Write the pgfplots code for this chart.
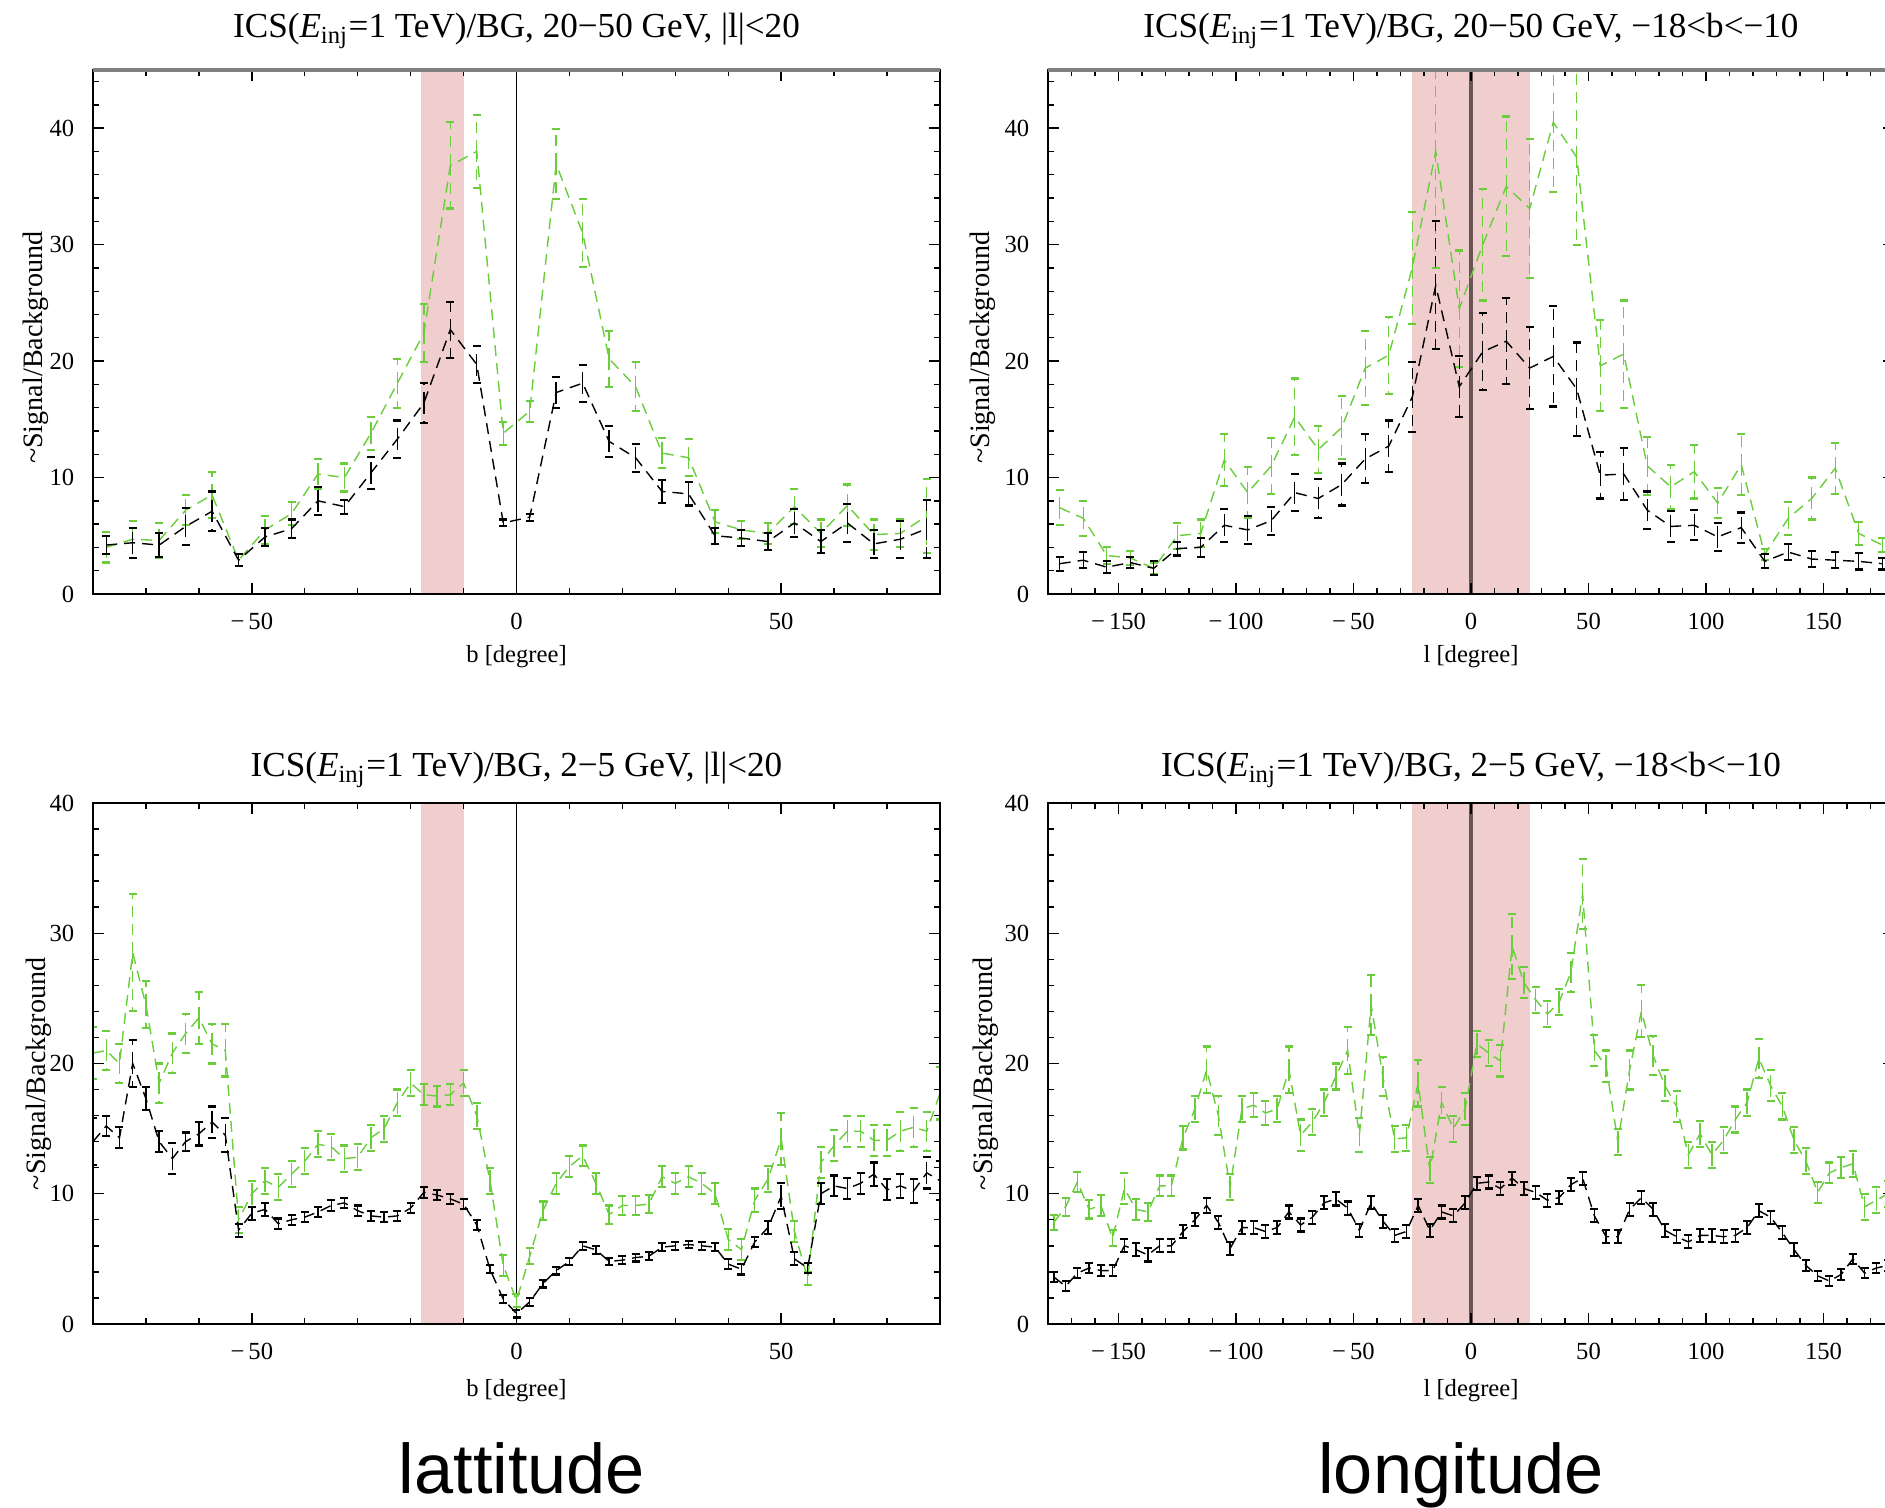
\documentclass[border=0pt]{standalone}
\usepackage{fontspec}
\setmainfont{Liberation Serif}
\newfontfamily\labelfont{Liberation Sans}
\usepackage{pgfplots}
\pgfplotsset{compat=1.18}

\definecolor{sbgreen}{RGB}{105,205,60}
\definecolor{bandpink}{RGB}{240,206,206}
\definecolor{zeroline}{RGB}{105,85,85}

\pgfplotsset{
  mma/.style={
    scale only axis, axis on top, clip=true,
    tick align=inside,
    major tick length=1.1mm, minor tick length=0.6mm,
    tick style={black, line width=0.4pt},
    axis line style={line width=0.5pt},
    ticklabel style={font=\fontsize{7}{8}\selectfont},
    xticklabel style={yshift=-2pt},
    yticklabel style={xshift=-1.8pt},
    /pgf/number format/assume math mode=true,
    title style={font=\fontsize{10}{12}\selectfont, anchor=base, at={(0.5,1)}},
    xlabel style={font=\fontsize{7}{8}\selectfont, at={(axis description cs:0.5,0)}, anchor=center},
    ylabel style={font=\fontsize{8}{9}\selectfont, anchor=center},
  },
  gser/.style={sbgreen, line width=0.4pt, dash pattern=on 1.1mm off 0.7mm, mark=none,
    error bars/.cd, y dir=both, y explicit, error mark=-,
    error bar style={sbgreen, line width=0.4pt, dash pattern=on 1.1mm off 0.7mm},
    error mark options={sbgreen, solid, rotate=90, mark size=0.4mm, line width=0.6pt}},
  kser/.style={black, line width=0.4pt, dash pattern=on 1.1mm off 0.7mm, mark=none,
    error bars/.cd, y dir=both, y explicit, error mark=-,
    error bar style={black, line width=0.4pt, dash pattern=on 1.1mm off 0.7mm},
    error mark options={black, solid, rotate=90, mark size=0.4mm, line width=0.6pt}},
}

\begin{document}
\begin{tikzpicture}
\useasboundingbox (0,0) rectangle (188.5mm,150.8mm);

% ---------- top left: latitude, 20-50 GeV
\begin{axis}[mma, name=tl,
  at={(9.3mm,91.4mm)}, anchor=south west,
  width=84.7mm, height=52.4mm,
  xmin=-80, xmax=80, ymin=0, ymax=45,
  xtick={-50,0,50}, xticklabels={−\,50,0,50},
  minor xtick={-80,-70,...,80},
  ytick={0,10,20,30,40}, minor ytick={0,2,...,44},
  title style={yshift=1.1mm},
  title={ICS(\textit{E}\textsubscript{inj}=1 TeV)/BG, 20−50 GeV, |l|<20},
  xlabel={b [degree]}, xlabel style={yshift=-6.3mm},
  ylabel={\textasciitilde Signal/Background},
  ylabel style={at={(axis description cs:-0.0673,0.47)}},
]
\addplot[draw=none, fill=bandpink, forget plot] coordinates {(-18,45) (-10,45)} \closedcycle;
\addplot[black, line width=0.5pt] coordinates {(0,0) (0,45)};
\addplot[gser] coordinates {
(-77.5,4.0) +- (0,1.3) (-72.5,4.7) +- (0,1.6) (-67.5,4.6) +- (0,1.5) (-62.5,7.2) +- (0,1.3)
(-57.5,8.5) +- (0,2.0) (-52.5,2.9) +- (0,0.5) (-47.5,5.5) +- (0,1.2) (-42.5,6.9) +- (0,1.0)
(-37.5,10.3) +- (0,1.3) (-32.5,10.0) +- (0,1.2) (-27.5,13.8) +- (0,1.4) (-22.5,18.1) +- (0,2.1)
(-17.5,22.4) +- (0,2.5) (-12.5,36.8) +- (0,3.7) (-7.5,38.0) +- (0,3.1) (-2.5,13.8) +- (0,1.0)
(2.5,15.7) +- (0,0.9) (7.5,36.9) +- (0,3.0) (12.5,31.0) +- (0,2.9) (17.5,20.2) +- (0,2.4)
(22.5,17.8) +- (0,2.1) (27.5,12.1) +- (0,1.3) (32.5,11.7) +- (0,1.6) (37.5,6.2) +- (0,1.0)
(42.5,5.5) +- (0,0.8) (47.5,5.2) +- (0,0.9) (52.5,7.5) +- (0,1.5) (57.5,5.2) +- (0,1.2)
(62.5,7.6) +- (0,1.8) (67.5,5.1) +- (0,1.3) (72.5,5.2) +- (0,1.2) (77.5,6.7) +- (0,3.2)
};
\addplot[kser] coordinates {
(-77.5,4.2) +- (0,0.8) (-72.5,4.4) +- (0,1.3) (-67.5,4.2) +- (0,1.0) (-62.5,5.8) +- (0,1.6)
(-57.5,7.1) +- (0,1.7) (-52.5,2.9) +- (0,0.5) (-47.5,4.9) +- (0,0.8) (-42.5,5.6) +- (0,0.8)
(-37.5,8.0) +- (0,1.2) (-32.5,7.5) +- (0,0.6) (-27.5,10.4) +- (0,1.4) (-22.5,13.3) +- (0,1.6)
(-17.5,16.4) +- (0,1.7) (-12.5,22.7) +- (0,2.4) (-7.5,19.7) +- (0,1.6) (-2.5,6.1) +- (0,0.3)
(2.5,6.6) +- (0,0.3) (7.5,17.3) +- (0,1.3) (12.5,18.1) +- (0,1.6) (17.5,13.1) +- (0,1.3)
(22.5,11.7) +- (0,1.2) (27.5,8.8) +- (0,1.0) (32.5,8.6) +- (0,1.0) (37.5,5.0) +- (0,0.7)
(42.5,4.8) +- (0,0.7) (47.5,4.5) +- (0,0.7) (52.5,6.1) +- (0,1.2) (57.5,4.5) +- (0,1.0)
(62.5,6.1) +- (0,1.6) (67.5,4.3) +- (0,1.2) (72.5,4.7) +- (0,1.6) (77.5,5.6) +- (0,2.5)
};
\end{axis}
\draw[gray, line width=0.35mm] (tl.north west) -- (tl.north east);

% ---------- top right: longitude, 20-50 GeV
\begin{axis}[mma, name=tr,
  at={(104.8mm,91.4mm)}, anchor=south west,
  width=84.6mm, height=52.4mm,
  xmin=-180, xmax=180, ymin=0, ymax=45,
  xtick={-150,-100,...,150}, xticklabels={−\,150,−\,100,−\,50,0,50,100,150},
  minor xtick={-180,-170,...,180},
  ytick={0,10,20,30,40}, minor ytick={0,2,...,44},
  title style={yshift=1.1mm},
  title={ICS(\textit{E}\textsubscript{inj}=1 TeV)/BG, 20−50 GeV, −18<b<−10},
  xlabel={l [degree]}, xlabel style={yshift=-6.3mm},
  ylabel={\textasciitilde Signal/Background},
  ylabel style={at={(axis description cs:-0.0768,0.47)}},
]
\addplot[draw=none, fill=bandpink, forget plot] coordinates {(-25,45) (25,45)} \closedcycle;
\addplot[zeroline, line width=0.9pt] coordinates {(0,0) (0,45)};
\addplot[gser] coordinates {
(-175,7.4) +- (0,1.5) (-165,6.5) +- (0,1.5) (-155,3.3) +- (0,0.7) (-145,3.1) +- (0,0.6)
(-135,2.2) +- (0,0.5) (-125,5.0) +- (0,1.1) (-115,5.2) +- (0,1.2) (-105,11.5) +- (0,2.2)
(-95,8.7) +- (0,2.2) (-85,11.0) +- (0,2.4) (-75,15.2) +- (0,3.3) (-65,12.4) +- (0,2.0)
(-55,14.3) +- (0,2.7) (-45,19.4) +- (0,3.2) (-35,20.5) +- (0,3.3) (-25,28.0) +- (0,4.8)
(-15,38.0) +- (0,10.0) (-5,24.5) +- (0,5.0) (5,30.0) +- (0,4.8) (15,35.0) +- (0,6.0)
(25,33.1) +- (0,6.0) (35,40.5) +- (0,6.0) (45,37.5) +- (0,7.5) (55,19.6) +- (0,3.9)
(65,20.6) +- (0,4.6) (75,11.0) +- (0,2.5) (85,9.2) +- (0,1.9) (95,10.5) +- (0,2.3)
(105,7.8) +- (0,1.3) (115,11.1) +- (0,2.6) (125,3.4) +- (0,0.5) (135,6.5) +- (0,1.4)
(145,8.2) +- (0,1.8) (155,10.8) +- (0,2.2) (165,5.2) +- (0,1.0) (175,4.2) +- (0,0.6)
};
\addplot[kser] coordinates {
(-175,2.6) +- (0,0.6) (-165,2.9) +- (0,0.7) (-155,2.3) +- (0,0.5) (-145,2.7) +- (0,0.5)
(-135,2.2) +- (0,0.6) (-125,3.9) +- (0,0.6) (-115,4.0) +- (0,0.8) (-105,5.9) +- (0,1.4)
(-95,5.5) +- (0,1.2) (-85,6.3) +- (0,1.2) (-75,8.7) +- (0,1.6) (-65,8.2) +- (0,1.7)
(-55,9.4) +- (0,1.8) (-45,11.6) +- (0,2.1) (-35,12.7) +- (0,2.2) (-25,16.9) +- (0,3.0)
(-15,26.5) +- (0,5.5) (-5,17.8) +- (0,2.6) (5,20.8) +- (0,3.3) (15,21.7) +- (0,3.7)
(25,19.4) +- (0,3.5) (35,20.4) +- (0,4.3) (45,17.6) +- (0,4.0) (55,10.2) +- (0,2.0)
(65,10.3) +- (0,2.2) (75,7.2) +- (0,1.6) (85,5.8) +- (0,1.3) (95,5.9) +- (0,1.3)
(105,4.9) +- (0,1.2) (115,5.7) +- (0,1.3) (125,2.8) +- (0,0.6) (135,3.6) +- (0,0.7)
(145,3.0) +- (0,0.7) (155,2.9) +- (0,0.7) (165,2.8) +- (0,0.7) (175,2.6) +- (0,0.5)
};
\end{axis}
\draw[gray, line width=0.35mm] (tr.north west) -- (tr.north east);

% ---------- bottom left: latitude, 2-5 GeV
\begin{axis}[mma, name=bl,
  at={(9.3mm,18.4mm)}, anchor=south west,
  width=84.7mm, height=52.1mm,
  xmin=-80, xmax=80, ymin=0, ymax=40,
  xtick={-50,0,50}, xticklabels={−\,50,0,50},
  minor xtick={-80,-70,...,80},
  ytick={0,10,20,30,40}, minor ytick={0,2,...,40},
  title style={yshift=0.5mm},
  title={ICS(\textit{E}\textsubscript{inj}=1 TeV)/BG, 2−5 GeV, |l|<20},
  xlabel={b [degree]}, xlabel style={yshift=-6.7mm},
  ylabel={\textasciitilde Signal/Background},
  ylabel style={at={(axis description cs:-0.0643,0.48)}},
]
\addplot[draw=none, fill=bandpink, forget plot] coordinates {(-18,40) (-10,40)} \closedcycle;
\addplot[black, line width=0.5pt] coordinates {(0,0) (0,40)};
\addplot[gser] coordinates {
(-80,20.8) +- (0,2.0) (-77.5,21.0) +- (0,1.5) (-75,20.0) +- (0,1.5) (-72.5,28.5) +- (0,4.5)
(-70,24.5) +- (0,1.8) (-67.5,18.5) +- (0,1.5) (-65,20.8) +- (0,1.5) (-62.5,22.3) +- (0,1.5)
(-60,23.5) +- (0,2.0) (-57.5,21.5) +- (0,1.5) (-55,21.0) +- (0,2.0) (-52.5,8.0) +- (0,1.0)
(-50,10.0) +- (0,1.0) (-47.5,11.0) +- (0,1.0) (-45,10.5) +- (0,1.0) (-42.5,11.5) +- (0,1.0)
(-40,12.5) +- (0,1.0) (-37.5,13.8) +- (0,1.0) (-35,13.6) +- (0,1.0) (-32.5,12.7) +- (0,1.0)
(-30,12.8) +- (0,1.0) (-27.5,14.3) +- (0,1.0) (-25,15.0) +- (0,1.0) (-22.5,17.0) +- (0,1.0)
(-20,18.5) +- (0,1.0) (-17.5,17.6) +- (0,0.8) (-15,17.5) +- (0,0.8) (-12.5,17.6) +- (0,0.8)
(-10,18.5) +- (0,1.0) (-7.5,16.0) +- (0,1.0) (-5,11.0) +- (0,1.0) (-2.5,4.5) +- (0,0.8)
(0,1.8) +- (0,0.5) (2.5,5.2) +- (0,0.6) (5,8.7) +- (0,0.7) (7.5,10.8) +- (0,0.8)
(10,12.1) +- (0,0.8) (12.5,12.9) +- (0,0.8) (15,10.8) +- (0,0.8) (17.5,8.4) +- (0,0.7)
(20,9.1) +- (0,0.7) (22.5,9.1) +- (0,0.7) (25,9.2) +- (0,0.7) (27.5,11.3) +- (0,0.8)
(30,10.8) +- (0,0.8) (32.5,11.3) +- (0,0.8) (35,10.8) +- (0,0.8) (37.5,10.0) +- (0,0.8)
(40,6.5) +- (0,0.8) (42.5,5.7) +- (0,0.8) (45,9.5) +- (0,0.9) (47.5,11.1) +- (0,1.0)
(50,14.2) +- (0,2.0) (52.5,7.1) +- (0,0.8) (55,3.5) +- (0,0.5) (57.5,12.4) +- (0,1.2)
(60,13.7) +- (0,1.2) (62.5,14.8) +- (0,1.2) (65,14.8) +- (0,1.2) (67.5,14.1) +- (0,1.2)
(70,14.1) +- (0,1.2) (72.5,14.8) +- (0,1.5) (75,15.1) +- (0,1.5) (77.5,14.8) +- (0,1.5)
(80,17.7) +- (0,2.0)
};
\addplot[kser] coordinates {
(-80,14.0) +- (0,1.8) (-77.5,15.2) +- (0,0.8) (-75,14.3) +- (0,0.8) (-72.5,20.0) +- (0,1.8)
(-70,17.3) +- (0,0.9) (-67.5,14.0) +- (0,0.8) (-65,12.7) +- (0,1.2) (-62.5,14.0) +- (0,0.7)
(-60,14.6) +- (0,0.9) (-57.5,15.5) +- (0,1.2) (-55,14.5) +- (0,1.3) (-52.5,7.2) +- (0,0.5)
(-50,8.5) +- (0,0.5) (-47.5,8.8) +- (0,0.5) (-45,7.7) +- (0,0.4) (-42.5,8.0) +- (0,0.4)
(-40,8.2) +- (0,0.4) (-37.5,8.6) +- (0,0.4) (-35,9.1) +- (0,0.4) (-32.5,9.3) +- (0,0.4)
(-30,8.7) +- (0,0.4) (-27.5,8.3) +- (0,0.4) (-25,8.2) +- (0,0.4) (-22.5,8.3) +- (0,0.4)
(-20,8.9) +- (0,0.4) (-17.5,10.1) +- (0,0.4) (-15,9.9) +- (0,0.4) (-12.5,9.6) +- (0,0.4)
(-10,9.2) +- (0,0.4) (-7.5,7.6) +- (0,0.4) (-5,4.2) +- (0,0.3) (-2.5,1.9) +- (0,0.3)
(0,0.8) +- (0,0.3) (2.5,1.7) +- (0,0.3) (5,3.1) +- (0,0.3) (7.5,4.1) +- (0,0.3)
(10,4.8) +- (0,0.3) (12.5,6.0) +- (0,0.3) (15,5.7) +- (0,0.3) (17.5,4.8) +- (0,0.3)
(20,4.9) +- (0,0.3) (22.5,5.1) +- (0,0.3) (25,5.2) +- (0,0.3) (27.5,5.9) +- (0,0.3)
(30,6.0) +- (0,0.3) (32.5,6.1) +- (0,0.3) (35,6.0) +- (0,0.3) (37.5,5.9) +- (0,0.3)
(40,4.6) +- (0,0.4) (42.5,4.2) +- (0,0.4) (45,6.3) +- (0,0.4) (47.5,7.4) +- (0,0.5)
(50,9.8) +- (0,1.0) (52.5,5.0) +- (0,0.5) (55,4.3) +- (0,0.4) (57.5,10.0) +- (0,0.8)
(60,10.6) +- (0,0.8) (62.5,10.4) +- (0,0.8) (65,10.8) +- (0,0.8) (67.5,11.5) +- (0,0.9)
(70,10.3) +- (0,0.8) (72.5,10.6) +- (0,0.9) (75,10.2) +- (0,0.9) (77.5,11.6) +- (0,1.2)
(80,11.0) +- (0,1.5)
};
\end{axis}

% ---------- bottom right: longitude, 2-5 GeV
\begin{axis}[mma, name=br,
  at={(104.8mm,18.4mm)}, anchor=south west,
  width=84.6mm, height=52.1mm,
  xmin=-180, xmax=180, ymin=0, ymax=40,
  xtick={-150,-100,...,150}, xticklabels={−\,150,−\,100,−\,50,0,50,100,150},
  minor xtick={-180,-170,...,180},
  ytick={0,10,20,30,40}, minor ytick={0,2,...,40},
  title style={yshift=0.5mm},
  title={ICS(\textit{E}\textsubscript{inj}=1 TeV)/BG, 2−5 GeV, −18<b<−10},
  xlabel={l [degree]}, xlabel style={yshift=-6.7mm},
  ylabel={\textasciitilde Signal/Background},
  ylabel style={at={(axis description cs:-0.0733,0.48)}},
]
\addplot[draw=none, fill=bandpink, forget plot] coordinates {(-25,40) (25,40)} \closedcycle;
\addplot[zeroline, line width=0.9pt] coordinates {(0,0) (0,40)};
\addplot[gser] coordinates {
(-177.5,7.8) +- (0,0.6) (-172.5,9.0) +- (0,0.7) (-167.5,10.9) +- (0,0.8) (-162.5,8.8) +- (0,0.7)
(-157.5,9.1) +- (0,0.8) (-152.5,6.6) +- (0,0.6) (-147.5,10.4) +- (0,1.2) (-142.5,8.8) +- (0,0.8)
(-137.5,8.6) +- (0,0.7) (-132.5,10.6) +- (0,0.8) (-127.5,10.6) +- (0,0.8) (-122.5,14.3) +- (0,0.9)
(-117.5,16.5) +- (0,1.0) (-112.5,19.5) +- (0,1.8) (-107.5,16.0) +- (0,1.5) (-102.5,10.5) +- (0,1.0)
(-97.5,16.5) +- (0,1.0) (-92.5,16.8) +- (0,0.9) (-87.5,16.2) +- (0,0.9) (-82.5,16.5) +- (0,1.0)
(-77.5,19.5) +- (0,1.8) (-72.5,14.5) +- (0,1.2) (-67.5,15.5) +- (0,1.0) (-62.5,17.0) +- (0,1.0)
(-57.5,19.0) +- (0,1.0) (-52.5,21.0) +- (0,1.8) (-47.5,14.5) +- (0,1.3) (-42.5,24.5) +- (0,2.3)
(-37.5,19.0) +- (0,1.5) (-32.5,14.2) +- (0,1.0) (-27.5,14.3) +- (0,1.0) (-22.5,18.5) +- (0,1.8)
(-17.5,11.8) +- (0,1.0) (-12.5,17.0) +- (0,1.2) (-7.5,15.0) +- (0,1.0) (-2.5,16.5) +- (0,1.2)
(2.5,21.5) +- (0,1.0) (7.5,20.8) +- (0,1.0) (12.5,20.2) +- (0,1.2) (17.5,29.0) +- (0,2.5)
(22.5,26.2) +- (0,1.2) (27.5,24.9) +- (0,1.0) (32.5,23.8) +- (0,1.0) (37.5,24.7) +- (0,1.0)
(42.5,27.0) +- (0,1.5) (47.5,33.0) +- (0,2.7) (52.5,21.0) +- (0,1.2) (57.5,19.8) +- (0,1.2)
(62.5,14.0) +- (0,1.0) (67.5,19.5) +- (0,1.5) (72.5,24.0) +- (0,2.0) (77.5,20.6) +- (0,1.5)
(82.5,18.3) +- (0,1.2) (87.5,16.7) +- (0,1.2) (92.5,13.0) +- (0,1.0) (97.5,14.6) +- (0,1.0)
(102.5,13.0) +- (0,1.0) (107.5,14.1) +- (0,1.0) (112.5,15.7) +- (0,1.0) (117.5,17.0) +- (0,1.0)
(122.5,20.4) +- (0,1.5) (127.5,18.3) +- (0,1.2) (132.5,16.7) +- (0,1.0) (137.5,14.1) +- (0,1.0)
(142.5,12.5) +- (0,1.0) (147.5,10.1) +- (0,0.8) (152.5,11.6) +- (0,0.8) (157.5,12.0) +- (0,0.8)
(162.5,12.3) +- (0,1.0) (167.5,9.0) +- (0,1.0) (172.5,9.5) +- (0,1.0) (177.5,10.0) +- (0,1.0)
};
\addplot[kser] coordinates {
(-177.5,3.6) +- (0,0.4) (-172.5,2.9) +- (0,0.4) (-167.5,3.9) +- (0,0.4) (-162.5,4.3) +- (0,0.4)
(-157.5,4.1) +- (0,0.4) (-152.5,4.1) +- (0,0.4) (-147.5,6.0) +- (0,0.5) (-142.5,5.7) +- (0,0.5)
(-137.5,5.3) +- (0,0.5) (-132.5,6.0) +- (0,0.5) (-127.5,6.0) +- (0,0.5) (-122.5,7.1) +- (0,0.5)
(-117.5,8.0) +- (0,0.5) (-112.5,9.1) +- (0,0.6) (-107.5,7.8) +- (0,0.5) (-102.5,5.8) +- (0,0.5)
(-97.5,7.4) +- (0,0.5) (-92.5,7.4) +- (0,0.5) (-87.5,7.1) +- (0,0.5) (-82.5,7.4) +- (0,0.5)
(-77.5,8.6) +- (0,0.5) (-72.5,7.6) +- (0,0.5) (-67.5,8.2) +- (0,0.5) (-62.5,9.3) +- (0,0.5)
(-57.5,9.6) +- (0,0.5) (-52.5,8.9) +- (0,0.5) (-47.5,7.2) +- (0,0.5) (-42.5,9.3) +- (0,0.5)
(-37.5,7.9) +- (0,0.5) (-32.5,6.8) +- (0,0.5) (-27.5,7.1) +- (0,0.5) (-22.5,9.1) +- (0,0.5)
(-17.5,7.2) +- (0,0.5) (-12.5,8.6) +- (0,0.5) (-7.5,8.3) +- (0,0.5) (-2.5,9.3) +- (0,0.5)
(2.5,10.8) +- (0,0.5) (7.5,10.9) +- (0,0.5) (12.5,10.4) +- (0,0.5) (17.5,11.2) +- (0,0.5)
(22.5,10.4) +- (0,0.5) (27.5,10.1) +- (0,0.5) (32.5,9.5) +- (0,0.5) (37.5,9.7) +- (0,0.5)
(42.5,10.7) +- (0,0.5) (47.5,11.2) +- (0,0.5) (52.5,8.3) +- (0,0.5) (57.5,6.7) +- (0,0.5)
(62.5,6.7) +- (0,0.5) (67.5,8.8) +- (0,0.5) (72.5,9.7) +- (0,0.5) (77.5,8.8) +- (0,0.5)
(82.5,7.2) +- (0,0.5) (87.5,6.7) +- (0,0.5) (92.5,6.3) +- (0,0.5) (97.5,6.8) +- (0,0.5)
(102.5,6.8) +- (0,0.5) (107.5,6.7) +- (0,0.5) (112.5,6.8) +- (0,0.5) (117.5,7.4) +- (0,0.5)
(122.5,8.7) +- (0,0.5) (127.5,8.2) +- (0,0.5) (132.5,7.0) +- (0,0.5) (137.5,5.7) +- (0,0.5)
(142.5,4.5) +- (0,0.4) (147.5,3.7) +- (0,0.4) (152.5,3.3) +- (0,0.4) (157.5,3.8) +- (0,0.4)
(162.5,5.0) +- (0,0.4) (167.5,3.9) +- (0,0.4) (172.5,4.3) +- (0,0.4) (177.5,4.5) +- (0,0.4)
};
\end{axis}

\node[font=\labelfont\fontsize{20}{24}\selectfont, anchor=base] at (52.2mm,1.4mm) {lattitude};
\node[font=\labelfont\fontsize{20}{24}\selectfont, anchor=base] at (146.1mm,1.4mm) {longitude};
\end{tikzpicture}
\end{document}
